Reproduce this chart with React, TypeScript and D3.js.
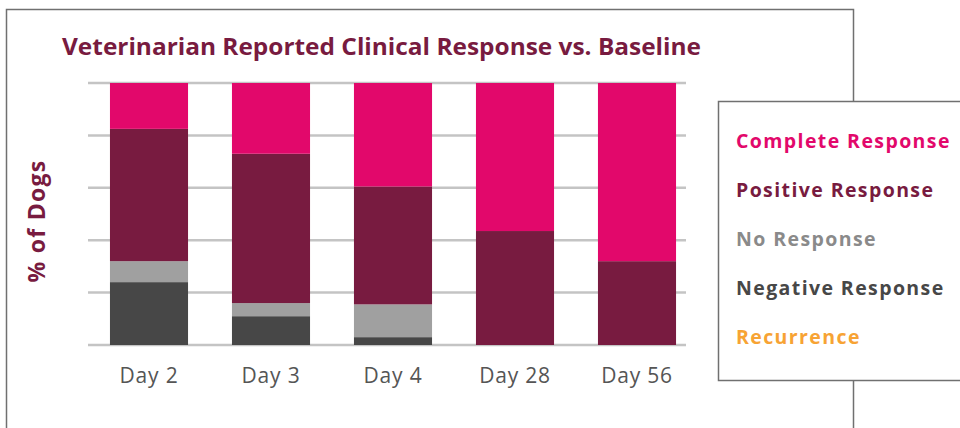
import React from "react";
import { scaleBand, scaleLinear, stack } from "d3";

const days = ["Day 2", "Day 3", "Day 4", "Day 28", "Day 56"];
const negative = [24, 11, 3, 0, 0];
const noResponse = [8, 5, 12.5, 0, 0];
const positive = [50.5, 57, 45, 43.5, 32];
const complete = [17.5, 27, 39.5, 56.5, 68];
const yTicks = [0, 20, 40, 60, 80, 100];

const seriesKeys = ["negative", "noResponse", "positive", "complete"];
const colors: Record<string, string> = {
  negative: "#474747",
  noResponse: "#a0a0a0",
  positive: "#781b40",
  complete: "#e2086b",
};

const legendItems = [
  { label: "Complete Response", color: "#e2086b" },
  { label: "Positive Response", color: "#781b40" },
  { label: "No Response", color: "#8a8a8a" },
  { label: "Negative Response", color: "#474747" },
  { label: "Recurrence", color: "#f7a334" },
];

const rows = days.map((d, i) => ({
  day: d,
  negative: negative[i],
  noResponse: noResponse[i],
  positive: positive[i],
  complete: complete[i],
}));

const font = "'Open Sans', 'DejaVu Sans', sans-serif";

export default function App() {
  const x = scaleBand().domain(days).range([88, 698]).paddingInner(0.36).paddingOuter(0.18);
  const y = scaleLinear().domain([0, 100]).range([345, 83]);
  const layers = stack<any>().keys(seriesKeys)(rows);

  return (
    <svg width={960} height={428} style={{ position: "absolute", left: 0, top: 0 }}>
      <rect x={0} y={0} width={960} height={428} fill="#fff" />
      {/* outer frame */}
      <path d="M6.5,428 V9.5 H853.5 V428" fill="none" stroke="#707070" strokeWidth={1.5} />
      <text x={62} y={55} fill="#781b40" fontFamily={font} fontWeight={700} fontSize={23.5}
        textLength={639} lengthAdjust="spacingAndGlyphs">
        Veterinarian Reported Clinical Response vs. Baseline
      </text>
      <text transform="translate(45,221) rotate(-90)" textAnchor="middle" fill="#781b40"
        fontFamily={font} fontWeight={700} fontSize={23} letterSpacing={1.3}>
        % of Dogs
      </text>
      {yTicks.map((t) => (
        <line key={t} x1={88} x2={686} y1={y(t)} y2={y(t)} stroke="#c4c4c4" strokeWidth={2.5} />
      ))}
      {layers.map((layer) => (
        <g key={layer.key} fill={colors[layer.key]}>
          {layer.map((d, i) => (
            <rect key={i} x={x(days[i])} width={x.bandwidth()} y={y(d[1])}
              height={Math.max(0, y(d[0]) - y(d[1]))} />
          ))}
        </g>
      ))}
      {days.map((d) => (
        <text key={d} x={(x(d) as number) + x.bandwidth() / 2} y={383} textAnchor="middle"
          fill="#555" fontFamily={font} fontSize={21} letterSpacing={0.8}>
          {d}
        </text>
      ))}
      {/* legend */}
      <rect x={718.5} y={101.5} width={260} height={279} fill="#fff" stroke="#707070" strokeWidth={1.5} />
      {legendItems.map((item, i) => (
        <text key={item.label} x={736} y={148 + i * 49} fill={item.color} fontFamily={font}
          fontWeight={700} fontSize={19.5} letterSpacing={1.4}>
          {item.label}
        </text>
      ))}
    </svg>
  );
}
